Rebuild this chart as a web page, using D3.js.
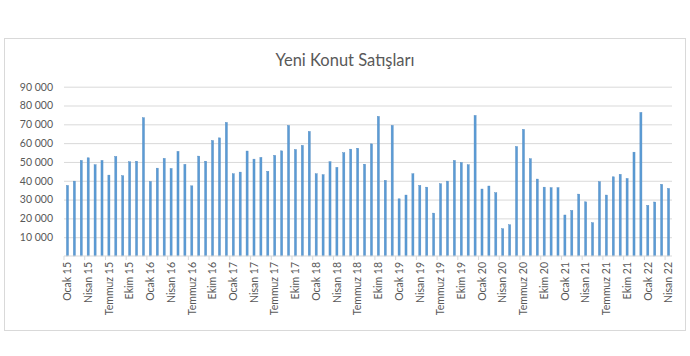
<!DOCTYPE html>
<html><head><meta charset="utf-8">
<script src="https://cdn.jsdelivr.net/npm/d3@7/dist/d3.min.js"></script>
<style>body{margin:0;background:#fff}svg{display:block}</style>
</head><body><svg id="c" width="690" height="356"></svg>
<script>
const title = "Yeni Konut Satışları";
const monthNames = ["Ocak","Şubat","Mart","Nisan","Mayıs","Haziran","Temmuz","Ağustos","Eylül","Ekim","Kasım","Aralık"];
const years = ["15","16","17","18","19","20","21","22"];
const categories = [];
years.forEach(y => monthNames.forEach(m => categories.push(m + " " + y)));
categories.splice(88);
const values = [
  37500,39800,50800,52200,48500,50800,43000,52900,42700,50100,50400,73500,
  39600,46700,51900,46500,55600,48700,37300,53100,50400,61400,62800,71000,
  43700,44600,55800,51500,52400,45000,53500,55900,69400,56600,58800,66200,
  43700,43200,50100,47100,54900,56800,57300,48800,59600,74200,40200,69400,
  30400,32400,43700,37500,36600,22800,38400,39800,50800,49700,48500,74700,
  35600,37200,33600,14500,16600,58200,67300,51700,40900,36600,36300,36300,
  21800,24200,32900,28800,17700,39500,32400,42100,43400,41200,55200,76300,
  26900,28700,38100,35900
];
const yTicks = [10000,20000,30000,40000,50000,60000,70000,80000,90000];

const svg = d3.select("#c");
const font = "Lato, 'Open Sans', sans-serif";
svg.append("rect").attr("x",4.5).attr("y",38.5).attr("width",681).attr("height",292)
  .attr("fill","#fff").attr("stroke","#d9d9d9");

const x = d3.scaleBand().domain(categories).range([64,672]).paddingInner(0.7).paddingOuter(0.35);
const y = d3.scaleLinear().domain([0,90000]).range([256,86.7]);
const step = x.step();

svg.append("text").attr("x",345).attr("y",66).attr("text-anchor","middle")
  .attr("font-family",font).attr("font-size",16.5).attr("fill","#595959").text(title);

// grid
const gy = svg.append("g").attr("transform","translate(64,0)")
  .call(d3.axisLeft(y).tickValues(yTicks).tickSize(-608).tickFormat(d => d3.format(",")(d).replace(/,/g," ")));
gy.select(".domain").remove();
gy.selectAll(".tick line").attr("stroke","#d9d9d9");
gy.selectAll(".tick text").attr("x",-11).attr("font-family",font).attr("font-size",10.5).attr("fill","#595959");

// bars
svg.append("g").selectAll("rect").data(values).join("rect")
  .attr("x",(d,i)=>x(categories[i])).attr("width",x.bandwidth())
  .attr("y",d=>y(d)).attr("height",d=>y(0)-y(d)).attr("fill","#5b9bd5")
  .attr("stroke","#4f88bf").attr("stroke-width",0.4);

// x axis
const labelled = categories.filter((c,i)=>i%3===0);
const gx = svg.append("g").attr("transform","translate(0,256)");
gx.append("line").attr("x1",64).attr("x2",672).attr("stroke","#d9d9d9");
gx.selectAll("line.t").data(labelled).join("line").attr("class","t")
  .attr("x1",d=>x(d)-(step-x.bandwidth())/2).attr("x2",d=>x(d)-(step-x.bandwidth())/2)
  .attr("y1",0).attr("y2",4).attr("stroke","#d9d9d9");
gx.selectAll("text").data(labelled).join("text")
  .attr("transform",d=>`translate(${x(d)+x.bandwidth()/2},6) rotate(-90)`)
  .attr("text-anchor","end").attr("dy","0.35em")
  .attr("font-family",font).attr("font-size",10.5).attr("fill","#595959").text(d=>d);
</script></body></html>
